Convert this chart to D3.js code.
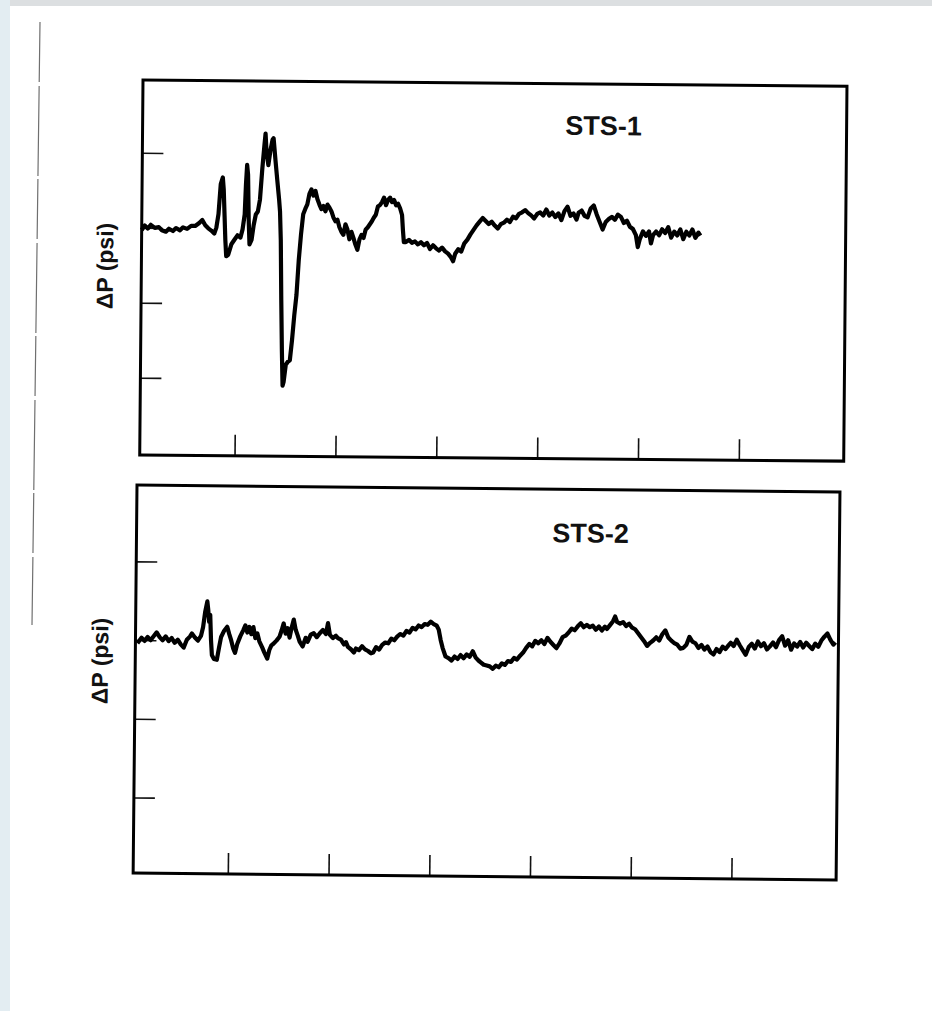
<!DOCTYPE html>
<html>
<head>
<meta charset="utf-8">
<script src="https://cdn.jsdelivr.net/npm/d3@7"></script>
<style>
  html, body { margin: 0; padding: 0; background: #fff; }
  svg { display: block; }
  .title, .ylabel { font-family: "Liberation Sans", Arial, Helvetica, sans-serif; font-weight: bold; fill: #111; }
</style>
</head>
<body>
<svg id="chart" width="932" height="1011" viewBox="0 0 932 1011"></svg>
<script>
// time axis ticks (ms) and pressure ticks (psi)
const timeTicks = [100, 200, 300, 400, 500, 600];
const dpTicks = [1, 0, -1, -2];
const panelNames = ["STS-1", "STS-2"];
const yLabel = "\u0394P (psi)";

// STS-1 trace: [time, dP]
const sts1 = [[6,-0.03],[9,0.03],[12,-0.01],[15,0.04],[19,0],[23,0.01],[26,-0.03],[30,-0.05],[33,-0.01],[37,-0.04],[40,0],[44,-0.03],[47,0.01],[51,-0.01],[55,0.03],[59,0.03],[63,0.07],[66,0.11],[69,0.04],[72,0],[75,-0.03],[78,-0.07],[80,0.01],[82,0.19],[84,0.59],[86,0.68],[87,0.52],[89,-0.15],[90,-0.37],[92,-0.35],[95,-0.21],[98,-0.15],[101,-0.09],[104,-0.12],[106,-0.01],[108,0.19],[109,0.59],[110,0.85],[111,0.72],[112,0.12],[113,-0.21],[115,-0.15],[117,0.05],[119,0.19],[121,0.23],[123,0.39],[125,0.79],[127,1.12],[128,1.27],[129,1.05],[131,0.85],[133,1.05],[135,1.19],[136,1.21],[138,0.92],[140,0.65],[142,0.39],[143,0.23],[144,-0.15],[145,-0.95],[146,-1.61],[147,-2.09],[148,-2.04],[150,-1.81],[152,-1.77],[154,-1.75],[156,-1.48],[158,-1.15],[160,-0.88],[162,-0.41],[164,-0.07],[166,0.20],[168,0.27],[170,0.33],[172,0.47],[174,0.53],[176,0.45],[178,0.51],[180,0.40],[182,0.33],[184,0.27],[186,0.31],[188,0.24],[190,0.33],[192,0.29],[194,0.24],[196,0.16],[198,0.11],[200,0.13],[202,0.03],[204,-0.03],[206,-0.07],[208,0.07],[210,0],[212,-0.13],[214,-0.03],[216,-0.11],[218,-0.20],[220,-0.27],[222,-0.13],[224,-0.07],[226,-0.11],[228,0],[230,0.03],[232,0.07],[234,0.11],[236,0.16],[238,0.20],[240,0.31],[242,0.33],[244,0.37],[246,0.43],[248,0.33],[250,0.40],[252,0.43],[254,0.37],[256,0.40],[258,0.33],[260,0.35],[262,0.29],[264,0.20],[265,0],[266,-0.16],[268,-0.16],[271,-0.13],[274,-0.17],[277,-0.15],[280,-0.19],[283,-0.16],[286,-0.20],[289,-0.17],[292,-0.25],[295,-0.20],[298,-0.24],[301,-0.27],[304,-0.23],[307,-0.28],[310,-0.31],[313,-0.36],[315,-0.41],[317,-0.31],[320,-0.25],[323,-0.28],[326,-0.17],[329,-0.12],[332,-0.05],[335,0.01],[338,0.07],[341,0.12],[344,0.17],[347,0.13],[350,0.09],[353,0.12],[356,0.07],[359,0.03],[362,0.09],[365,0.11],[368,0.15],[371,0.12],[374,0.19],[377,0.17],[380,0.23],[383,0.25],[386,0.28],[389,0.24],[392,0.21],[395,0.17],[398,0.23],[401,0.25],[404,0.21],[407,0.29],[410,0.21],[413,0.25],[416,0.19],[419,0.24],[422,0.15],[425,0.27],[428,0.33],[431,0.21],[434,0.24],[437,0.16],[439,0.25],[442,0.28],[445,0.21],[448,0.19],[451,0.31],[454,0.35],[457,0.23],[460,0.13],[463,0.03],[466,0.13],[469,0.17],[472,0.20],[475,0.16],[478,0.23],[481,0.20],[484,0.12],[487,0.15],[490,0.07],[493,0.04],[496,-0.04],[498,-0.20],[500,-0.09],[503,0.01],[506,-0.05],[509,0.01],[511,-0.15],[513,-0.04],[516,0.01],[519,-0.04],[522,0.04],[525,-0.01],[528,0.07],[531,-0.07],[534,0.01],[537,-0.04],[540,0.04],[543,-0.09],[546,0.01],[549,-0.04],[552,0.04],[555,-0.07],[558,0],[560,-0.04]];

// STS-2 trace: [time, dP]
const sts2 = [[8,-0.04],[12,0.03],[15,-0.01],[18,0.04],[21,0],[24,0.05],[27,0.10],[30,0.04],[33,0],[36,0.05],[39,-0.01],[42,0.03],[45,-0.03],[48,0.01],[51,-0.05],[54,-0.09],[57,0.01],[60,0.05],[62,0.09],[65,0.04],[68,0],[71,0.06],[73,0.17],[75,0.37],[77,0.50],[78,0.39],[79,0.24],[80,0.33],[81,0.01],[82,-0.18],[84,-0.23],[87,-0.24],[89,-0.09],[91,0.05],[94,0.13],[97,0.18],[99,0.09],[101,0.01],[103,-0.09],[105,-0.15],[107,-0.04],[110,0.06],[113,0.14],[115,0.20],[117,0.11],[119,0.18],[121,0.09],[123,0.18],[125,0.04],[127,0.10],[129,0],[132,-0.08],[134,-0.14],[137,-0.22],[139,-0.11],[141,-0.05],[143,-0.03],[146,0.01],[149,0.06],[151,0.14],[153,0.23],[155,0.10],[157,0.17],[159,0.05],[161,0.18],[163,0.28],[165,0.15],[167,0.08],[169,0],[172,-0.06],[175,0.05],[177,0],[180,0.09],[183,0.11],[186,0.06],[189,0.11],[192,0.15],[195,0.10],[197,0.24],[199,0.09],[202,0.05],[205,0.08],[207,0.05],[210,0.03],[213,-0.03],[215,0],[217,-0.06],[220,-0.09],[223,-0.13],[225,-0.08],[228,-0.10],[231,-0.05],[234,-0.09],[237,-0.11],[240,-0.14],[242,-0.13],[245,-0.06],[248,-0.09],[251,-0.03],[254,0],[257,-0.01],[260,0.05],[263,0.03],[266,0.08],[269,0.11],[272,0.09],[275,0.15],[278,0.13],[281,0.19],[284,0.17],[287,0.22],[290,0.20],[293,0.24],[296,0.23],[299,0.27],[302,0.24],[305,0.22],[307,0.17],[309,0.04],[311,-0.06],[314,-0.17],[317,-0.19],[320,-0.22],[323,-0.17],[326,-0.20],[329,-0.15],[332,-0.19],[335,-0.14],[338,-0.17],[341,-0.10],[344,-0.18],[347,-0.22],[349,-0.24],[352,-0.27],[355,-0.28],[358,-0.29],[361,-0.32],[364,-0.28],[367,-0.30],[370,-0.25],[373,-0.27],[376,-0.22],[379,-0.23],[382,-0.18],[385,-0.20],[388,-0.15],[391,-0.11],[394,-0.05],[397,0],[400,-0.03],[403,0.04],[406,0.01],[409,0.05],[412,0],[415,0.08],[418,0.03],[421,-0.01],[424,-0.05],[427,0.01],[430,0.09],[433,0.11],[436,0.15],[439,0.20],[442,0.18],[445,0.23],[448,0.27],[451,0.22],[454,0.25],[457,0.22],[460,0.24],[463,0.19],[466,0.23],[469,0.18],[472,0.23],[474,0.20],[477,0.25],[480,0.30],[482,0.36],[484,0.29],[487,0.27],[490,0.29],[493,0.24],[496,0.27],[499,0.22],[502,0.20],[505,0.15],[508,0.10],[511,0.05],[514,-0.01],[517,0.03],[520,0.06],[523,0.10],[526,0.06],[529,0.14],[532,0.19],[535,0.10],[538,0.06],[541,0.03],[544,0.01],[547,-0.04],[550,-0.03],[553,0.01],[556,0.11],[559,0.05],[562,0.03],[565,-0.03],[568,0.01],[571,-0.05],[574,-0.01],[577,-0.08],[580,-0.11],[583,-0.04],[586,-0.08],[589,-0.01],[592,-0.04],[595,0.01],[597,0.04],[600,0],[603,0.08],[606,0.01],[609,-0.05],[612,-0.11],[615,-0.01],[618,0.03],[621,-0.03],[624,0.06],[627,0],[630,0.04],[633,-0.04],[636,0],[639,0.05],[642,-0.01],[645,0.08],[648,0.13],[651,0.01],[654,0.08],[657,-0.04],[660,0.04],[663,0],[666,0.06],[669,-0.01],[672,0.05],[675,0.01],[678,-0.03],[681,0.04],[684,0],[687,0.08],[690,0.13],[693,0.17],[696,0.09],[699,0.03],[701,0.06]];

const svg = d3.select("#chart");

/* ----- scanned page look: edge strips and stray line ----- */
svg.append("rect").attr("x", 0).attr("y", 0).attr("width", 932).attr("height", 6).attr("fill", "#dcdfe1");
svg.append("rect").attr("x", 0).attr("y", 0).attr("width", 10).attr("height", 1011).attr("fill", "#e3edf2");
svg.append("line")
    .attr("x1", 40).attr("y1", 22).attr("x2", 32).attr("y2", 625)
    .attr("stroke", "#6f6f6f").attr("stroke-width", 1.2)
    .attr("stroke-dasharray", "60 4 90 3");

/* ----- panel layout (page is scanned slightly rotated) ----- */
const layout = [
    {data: sts1, x0: 143, y0: 80, w: 704, h: 375, rot: 0.5, yDomain: [-3.03, 1.97], tx: 461, ty: 51, lx: 113, ly: 266},
    {data: sts2, x0: 137, y0: 485, w: 703, h: 388, rot: 0.57, yDomain: [-2.96, 1.97], tx: 454, ty: 53, lx: 108, ly: 661}
];

layout.forEach((p, i) => {
    let g = svg.append("g")
        .attr("transform", `translate(${p.x0},${p.y0}) rotate(${p.rot})`);

    let x = d3.scaleLinear().domain([6, 704]).range([0, p.w]);
    let y = d3.scaleLinear().domain(p.yDomain).range([p.h, 0]);

    // y ticks pointing inward from the left edge
    let yAxis = g.append("g")
        .call(d3.axisRight(y).tickValues(dpTicks).tickSize(21).tickFormat(""));
    yAxis.select(".domain").remove();
    yAxis.selectAll("line").attr("stroke", "#111").attr("stroke-width", 1.6);

    // x ticks pointing up from the bottom edge
    let xAxis = g.append("g")
        .attr("transform", `translate(0,${p.h})`)
        .call(d3.axisTop(x).tickValues(timeTicks).tickSize(21).tickFormat(""));
    xAxis.select(".domain").remove();
    xAxis.selectAll("line").attr("stroke", "#111").attr("stroke-width", 1.6);

    // trace
    let line = d3.line()
        .x(d => x(d[0]))
        .y(d => y(d[1]));

    g.append("path")
        .datum(p.data)
        .attr("d", line)
        .attr("fill", "none")
        .attr("stroke", "#000")
        .attr("stroke-width", 4.2)
        .attr("stroke-linejoin", "round");

    // frame
    g.append("rect")
        .attr("width", p.w).attr("height", p.h)
        .attr("fill", "none")
        .attr("stroke", "#000")
        .attr("stroke-width", 3);

    g.append("text")
        .attr("class", "title")
        .attr("x", p.tx).attr("y", p.ty)
        .attr("text-anchor", "middle")
        .style("font-size", "27px")
        .text(panelNames[i]);

    svg.append("text")
        .attr("class", "ylabel")
        .attr("transform", `translate(${p.lx},${p.ly}) rotate(${-90 + p.rot})`)
        .attr("text-anchor", "middle")
        .style("font-size", "23px")
        .text(yLabel);
});
</script>
</body>
</html>
